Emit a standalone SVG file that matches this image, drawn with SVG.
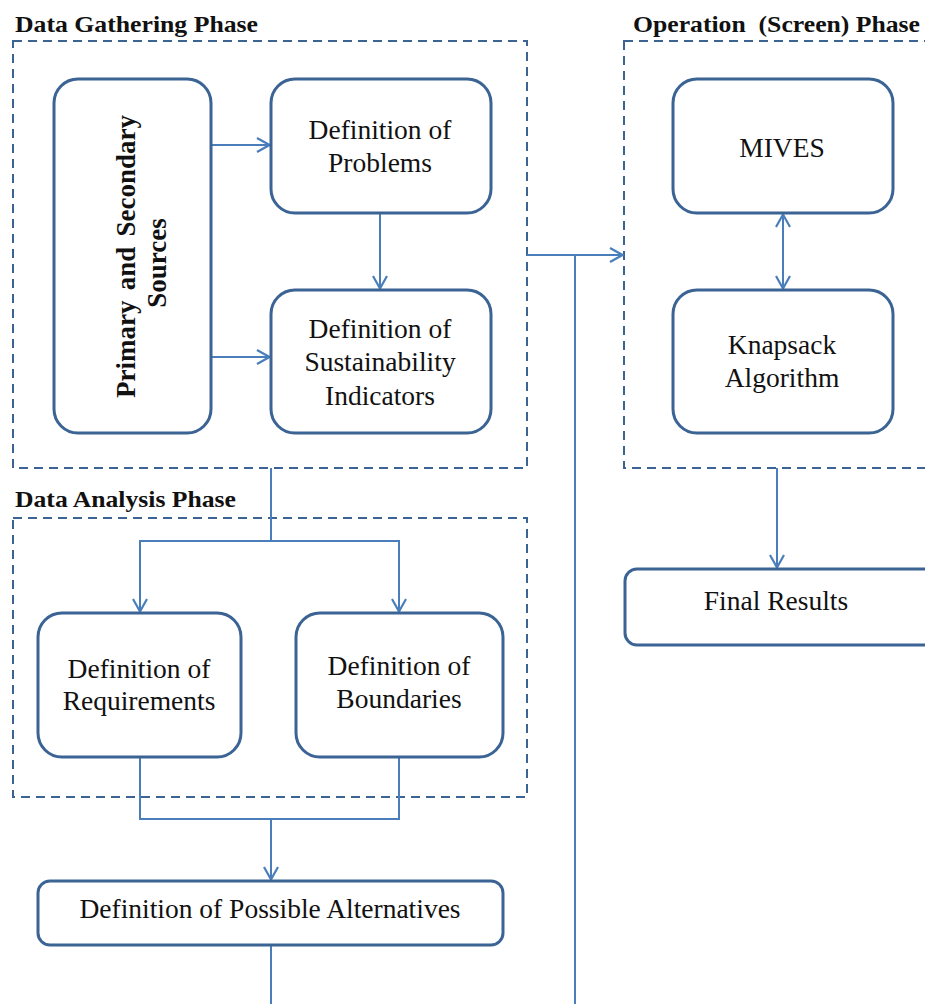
<svg xmlns="http://www.w3.org/2000/svg" width="925" height="1004" viewBox="0 0 925 1004">
  <defs>
    <marker id="arr" viewBox="0 0 16 18" refX="15" refY="9" markerWidth="16" markerHeight="18" markerUnits="userSpaceOnUse" orient="auto-start-reverse">
      <path d="M2,2 L14.5,9 L2,16" fill="none" stroke="#4a7ebb" stroke-width="2.2"/>
    </marker>
    <style>
      .phase { fill: none; stroke: #3b6494; stroke-width: 2; stroke-dasharray: 9 6; }
      .box { fill: #ffffff; stroke: #3b6494; stroke-width: 3; }
      .lbl { font-family: "Liberation Serif", "Times New Roman", serif; font-size: 27.5px; fill: #111; text-anchor: middle; }
      .vlbl { font-family: "Liberation Serif", "Times New Roman", serif; font-size: 27px; font-weight: bold; fill: #111; }
      .title { font-family: "Liberation Serif", "Times New Roman", serif; font-size: 24px; font-weight: bold; fill: #111; }
      .conn { fill: none; stroke: #4a7ebb; stroke-width: 2; }
    </style>
  </defs>

  <!-- phase frames -->
  <g id="phase-gathering">
    <rect class="phase" x="13" y="41" width="514" height="427"/>
    <text class="title" x="15" y="32" textLength="243" lengthAdjust="spacingAndGlyphs">Data Gathering Phase</text>
  </g>
  <g id="phase-operation">
    <rect class="phase" x="624" y="41" width="320" height="427"/>
    <text class="title" x="633" y="32" xml:space="preserve" textLength="287" lengthAdjust="spacingAndGlyphs">Operation  (Screen) Phase</text>
  </g>
  <g id="phase-analysis">
    <rect class="phase" x="13" y="518" width="514" height="279"/>
    <text class="title" x="15" y="507" textLength="221" lengthAdjust="spacingAndGlyphs">Data Analysis Phase</text>
  </g>

  <!-- connectors -->
  <g id="connectors">
    <line class="conn" x1="211" y1="145" x2="270" y2="145" marker-end="url(#arr)"/>
    <line class="conn" x1="211" y1="357" x2="270" y2="357" marker-end="url(#arr)"/>
    <line class="conn" x1="380" y1="213" x2="380" y2="289" marker-end="url(#arr)"/>
    <line class="conn" x1="783" y1="214" x2="783" y2="289" marker-start="url(#arr)" marker-end="url(#arr)"/>
    <line class="conn" x1="527" y1="255" x2="623" y2="255" marker-end="url(#arr)"/>
    <line class="conn" x1="575" y1="255" x2="575" y2="1004"/>
    <line class="conn" x1="777" y1="468" x2="777" y2="568" marker-end="url(#arr)"/>
    <polyline class="conn" points="271,468 271,541"/>
    <polyline class="conn" points="140,612 140,541 399,541 399,612" marker-start="url(#arr)" marker-end="url(#arr)"/>
    <polyline class="conn" points="140,757 140,819 399,819 399,757"/>
    <line class="conn" x1="271" y1="819" x2="271" y2="880" marker-end="url(#arr)"/>
    <line class="conn" x1="271" y1="945" x2="271" y2="1004"/>
  </g>

  <!-- nodes -->
  <g id="node-sources">
    <rect class="box" x="54" y="79" width="157" height="354" rx="24"/>
    <!-- vertical label, read bottom to top -->
    <g transform="rotate(-90)">
      <text class="vlbl" x="-398" y="135" word-spacing="3.5">Primary and Secondary</text>
      <text class="vlbl" x="-263" y="166" text-anchor="middle">Sources</text>
    </g>
  </g>
  <g id="node-problems">
    <rect class="box" x="271" y="79" width="220" height="134" rx="24"/>
    <text class="lbl" x="380" y="139">Definition of</text>
    <text class="lbl" x="380" y="172">Problems</text>
  </g>
  <g id="node-indicators">
    <rect class="box" x="271" y="290" width="220" height="143" rx="24"/>
    <text class="lbl" x="380" y="338">Definition of</text>
    <text class="lbl" x="380" y="371">Sustainability</text>
    <text class="lbl" x="380" y="405">Indicators</text>
  </g>
  <g id="node-mives">
    <rect class="box" x="673" y="79" width="220" height="134" rx="24"/>
    <text class="lbl" x="782" y="157">MIVES</text>
  </g>
  <g id="node-knapsack">
    <rect class="box" x="673" y="290" width="220" height="143" rx="24"/>
    <text class="lbl" x="782" y="354">Knapsack</text>
    <text class="lbl" x="782" y="387">Algorithm</text>
  </g>
  <g id="node-final">
    <rect class="box" x="625" y="569" width="320" height="76" rx="12"/>
    <text class="lbl" x="776" y="610">Final Results</text>
  </g>
  <g id="node-requirements">
    <rect class="box" x="38" y="613" width="203" height="144" rx="24"/>
    <text class="lbl" x="139" y="678">Definition of</text>
    <text class="lbl" x="139" y="710">Requirements</text>
  </g>
  <g id="node-boundaries">
    <rect class="box" x="296" y="613" width="207" height="144" rx="24"/>
    <text class="lbl" x="399" y="675">Definition of</text>
    <text class="lbl" x="399" y="708">Boundaries</text>
  </g>
  <g id="node-alternatives">
    <rect class="box" x="38" y="881" width="465" height="64" rx="12"/>
    <text class="lbl" x="270" y="918">Definition of Possible Alternatives</text>
  </g>
</svg>
